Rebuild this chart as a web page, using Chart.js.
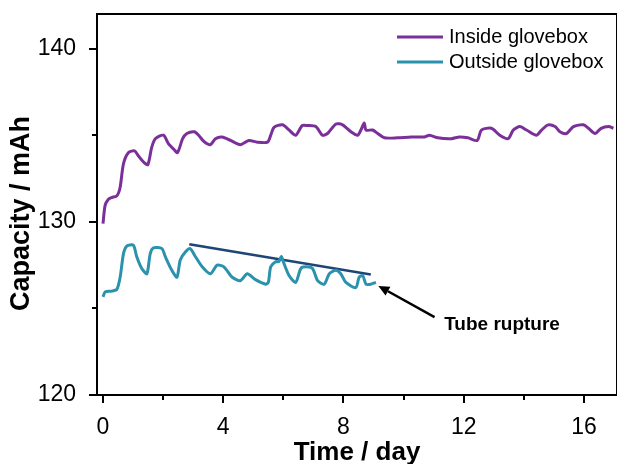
<!DOCTYPE html>
<html>
<head>
<meta charset="utf-8">
<script src="https://cdn.jsdelivr.net/npm/chart.js@4.4.1/dist/chart.umd.min.js"></script>
<style>
  html, body { margin: 0; padding: 0; background: #ffffff; }
  #wrap { width: 617px; height: 464px; }
</style>
</head>
<body>
<div id="wrap"><canvas id="c" width="617" height="464"></canvas></div>
<script>
// ---------- data ----------
const seriesNames = ["Inside glovebox", "Outside glovebox"];

const insideDays = [0.00,0.07,0.18,0.29,0.46,0.57,0.68,0.85,1.05,1.18,1.35,1.49,1.62,1.74,2.01,2.18,2.35,2.48,2.65,2.79,3.04,3.18,3.35,3.57,3.74,3.96,4.24,4.57,4.85,5.13,5.47,5.58,5.69,5.97,6.19,6.41,6.63,6.80,7.08,7.30,7.47,7.75,7.97,8.25,8.47,8.58,8.69,8.75,8.97,9.14,9.36,9.80,10.25,10.69,10.86,11.14,11.59,11.86,12.14,12.45,12.59,12.92,13.20,13.48,13.65,13.87,14.09,14.42,14.59,14.81,15.04,15.20,15.42,15.65,15.98,16.15,16.37,16.57,16.82,16.98];
const insideCap = [129.9,130.95,131.3,131.4,131.5,132.0,133.35,134.0,134.1,133.8,133.45,133.3,134.3,134.8,135.0,134.5,134.2,134.0,134.8,135.1,135.2,135.0,134.65,134.45,134.8,134.9,134.7,134.45,134.7,134.6,134.6,135.0,135.46,135.6,135.3,135.0,135.56,135.56,135.5,135.0,135.1,135.65,135.6,135.2,135.0,135.3,135.7,135.3,135.3,135.1,134.85,134.85,134.9,134.9,135.0,134.85,134.8,134.9,134.85,134.7,135.3,135.4,135.0,134.8,135.3,135.5,135.3,135.0,135.3,135.6,135.5,135.2,135.1,135.5,135.6,135.4,135.1,135.4,135.5,135.4];

const outsideDays = [0.00,0.07,0.29,0.46,0.57,0.68,0.79,1.01,1.12,1.29,1.46,1.57,1.68,1.96,2.07,2.29,2.46,2.57,2.74,2.90,3.07,3.30,3.57,3.80,4.02,4.30,4.57,4.80,5.07,5.41,5.50,5.58,5.74,5.85,5.93,6.02,6.19,6.41,6.58,6.74,6.97,7.14,7.36,7.53,7.75,7.91,8.08,8.41,8.52,8.64,8.75,8.91,9.08];
const outsideCap = [125.67,125.95,126.0,126.1,126.8,128.15,128.6,128.65,128.0,127.3,127.0,128.15,128.5,128.45,128.0,127.2,126.8,127.8,128.26,128.45,128.0,127.4,127.0,127.5,127.4,126.8,126.6,127.0,126.66,126.4,126.5,127.4,127.7,127.7,128.0,127.6,126.9,126.5,127.3,127.4,127.3,126.6,126.4,127.0,127.2,127.0,126.5,126.2,126.8,126.9,126.4,126.4,126.5];

// trend line over the outside-glovebox peaks
const trendDays = [2.87, 8.91];
const trendCap = [128.7, 126.96];

// annotation (data coordinates)
const noteText = "Tube rupture";
const arrowTail = [11.03, 124.5];
const arrowHead = [9.16, 126.3];
const noteAt = [11.35, 123.75];

// axes
const xTickValues = [0, 4, 8, 12, 16];
const xMinorValues = [2, 6, 10, 14];
const yTickValues = [120, 130, 140];
const yMinorValues = [125, 135];
const xTitle = "Time / day";
const yTitle = "Capacity / mAh";

// ---------- styles ----------
const FONT = "'Liberation Sans', Arial, Helvetica, sans-serif";
const PURPLE = "#7b2f99";
const TEAL = "#2a92ad";
const NAVY = "#1d4676";

function pts(xs, ys) { return xs.map((x, i) => ({ x: x, y: ys[i] })); }

const framePlugin = {
  id: "frame",
  afterDatasetsDraw(chart) {
    const { ctx, chartArea: a, scales: { x, y } } = chart;
    ctx.save();
    // frame
    ctx.strokeStyle = "#000";
    ctx.lineWidth = 2;
    ctx.strokeRect(a.left, a.top, a.right - a.left, a.bottom - a.top);
    // ticks
    ctx.lineWidth = 2;
    ctx.beginPath();
    xTickValues.forEach(v => { const p = Math.round(x.getPixelForValue(v)); ctx.moveTo(p, a.bottom); ctx.lineTo(p, a.bottom + 8); });
    xMinorValues.forEach(v => { const p = Math.round(x.getPixelForValue(v)); ctx.moveTo(p, a.bottom); ctx.lineTo(p, a.bottom + 5); });
    yTickValues.forEach(v => { const p = Math.round(y.getPixelForValue(v)); ctx.moveTo(a.left, p); ctx.lineTo(a.left - 8, p); });
    yMinorValues.forEach(v => { const p = Math.round(y.getPixelForValue(v)); ctx.moveTo(a.left, p); ctx.lineTo(a.left - 5, p); });
    ctx.stroke();

    // y-axis title
    ctx.save();
    ctx.translate(22, 213.5);
    ctx.rotate(-Math.PI / 2);
    ctx.font = "bold 27px " + FONT;
    ctx.fillStyle = "#000";
    ctx.textAlign = "center";
    ctx.textBaseline = "middle";
    ctx.fillText(yTitle, 0, 0);
    ctx.restore();

    // arrow annotation
    const tx = x.getPixelForValue(arrowTail[0]), ty = y.getPixelForValue(arrowTail[1]);
    const hx = x.getPixelForValue(arrowHead[0]), hy = y.getPixelForValue(arrowHead[1]);
    const ang = Math.atan2(hy - ty, hx - tx);
    const hl = 11, hw = 5;
    const bx = hx - Math.cos(ang) * hl, by = hy - Math.sin(ang) * hl;
    ctx.strokeStyle = "#000";
    ctx.lineWidth = 2.5;
    ctx.beginPath();
    ctx.moveTo(tx, ty);
    ctx.lineTo(bx, by);
    ctx.stroke();
    ctx.fillStyle = "#000";
    ctx.beginPath();
    ctx.moveTo(hx, hy);
    ctx.lineTo(bx + Math.sin(ang) * hw, by - Math.cos(ang) * hw);
    ctx.lineTo(bx - Math.sin(ang) * hw, by + Math.cos(ang) * hw);
    ctx.closePath();
    ctx.fill();

    ctx.font = "bold 19px " + FONT;
    ctx.textAlign = "left";
    ctx.textBaseline = "alphabetic";
    ctx.fillText(noteText, x.getPixelForValue(noteAt[0]), y.getPixelForValue(noteAt[1]));

    // legend
    const colors = [PURPLE, TEAL];
    ctx.font = "20px " + FONT;
    ctx.textBaseline = "middle";
    seriesNames.forEach((name, i) => {
      const ry = 37 + i * 25;
      ctx.strokeStyle = colors[i];
      ctx.lineWidth = 3;
      ctx.beginPath();
      ctx.moveTo(397, ry);
      ctx.lineTo(443, ry);
      ctx.stroke();
      ctx.fillStyle = "#000";
      ctx.fillText(name, 449, ry);
    });
    ctx.restore();
  }
};

new Chart(document.getElementById("c"), {
  type: "line",
  data: {
    datasets: [
      { label: seriesNames[0], data: pts(insideDays, insideCap), borderColor: PURPLE, borderWidth: 3, pointRadius: 0, tension: 0.25, fill: false },
      { label: seriesNames[1], data: pts(outsideDays, outsideCap), borderColor: TEAL, borderWidth: 3, pointRadius: 0, tension: 0.25, fill: false },
      { label: "trend", data: pts(trendDays, trendCap), borderColor: NAVY, borderWidth: 2.5, pointRadius: 0, tension: 0, fill: false }
    ]
  },
  options: {
    responsive: false,
    animation: false,
    devicePixelRatio: 1,
    layout: { padding: { top: 14, right: 0, left: 0, bottom: 0 } },
    plugins: { legend: { display: false }, tooltip: { enabled: false }, title: { display: false } },
    scales: {
      x: {
        type: "linear",
        min: -0.2,
        max: 17.1,
        afterBuildTicks: s => { s.ticks = xTickValues.map(v => ({ value: v })); },
        afterFit: s => { s.height = 69; s.paddingLeft = 0; s.paddingRight = 0; },
        grid: { display: false },
        border: { display: false },
        ticks: { color: "#000", padding: 11, maxRotation: 0, autoSkip: false, font: { family: FONT, size: 23 }, callback: v => String(v) },
        title: { display: true, text: xTitle, color: "#000", padding: 0, font: { family: FONT, size: 26, weight: "bold", lineHeight: 0.88 } }
      },
      y: {
        type: "linear",
        min: 120,
        max: 142,
        afterBuildTicks: s => { s.ticks = yTickValues.map(v => ({ value: v })); },
        afterFit: s => { s.width = 97; s.paddingTop = 0; s.paddingBottom = 0; },
        grid: { display: false },
        border: { display: false },
        ticks: { color: "#000", padding: 13, autoSkip: false, font: { family: FONT, size: 23 }, callback: v => String(v) },
        title: { display: false, text: yTitle }
      }
    }
  },
  plugins: [framePlugin]
});
</script>
</body>
</html>
